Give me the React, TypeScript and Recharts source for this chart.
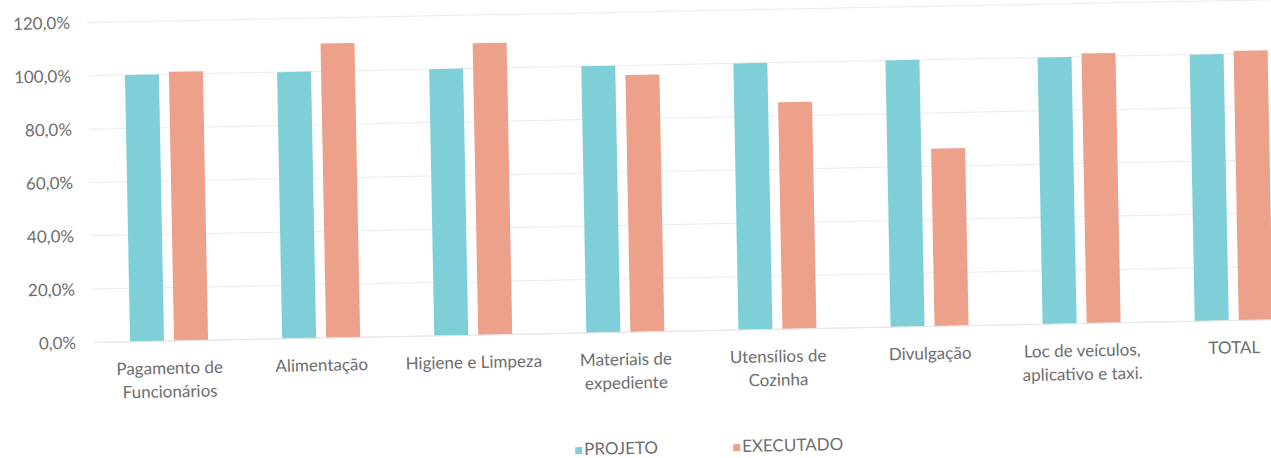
import React from 'react';
import { BarChart, Bar, XAxis, YAxis, CartesianGrid } from 'recharts';

const categorias = [
  'Pagamento de\nFuncionários',
  'Alimentação',
  'Higiene e Limpeza',
  'Materiais de\nexpediente',
  'Utensílios de\nCozinha',
  'Divulgação',
  'Loc de veículos,\naplicativo e taxi.',
  'TOTAL',
];
const projeto = [100, 100, 100, 100, 100, 100, 100, 100];
const executado = [100.9, 110.4, 109.4, 96.4, 85.1, 66.6, 101.2, 101.1];
const yTicks = [0, 20, 40, 60, 80, 100, 120];

const COR_PROJETO = '#7fcfd9';
const COR_EXECUTADO = '#eda08a';
const TEXTO = '#6e6e6e';
const FONTE = 'Lato, "Open Sans", sans-serif';

const chartData = categorias.map((c, i) => ({
  name: c,
  projeto: projeto[i],
  executado: executado[i],
}));

const fmtPct = (v: number) => v.toFixed(1).replace('.', ',') + '%';

const CategoryTick = ({ x, y, payload }: any) => {
  const linhas = String(payload.value).split('\n');
  return (
    <text x={x} y={y} textAnchor="middle" fill={TEXTO} fontSize={17} fontFamily={FONTE}>
      {linhas.map((l, i) => (
        <tspan key={i} x={x} dy={i === 0 ? 25 : 23.5}>
          {l}
        </tspan>
      ))}
    </text>
  );
};

const LegendItem = ({ color, label }: { color: string; label: string }) => (
  <div style={{ display: 'flex', alignItems: 'center' }}>
    <span style={{ width: 7, height: 7, background: color, marginRight: 2, marginTop: 3 }} />
    <span>{label}</span>
  </div>
);

export default function App() {
  return (
    <div
      style={{
        position: 'fixed',
        left: 0,
        top: 0,
        width: 1271,
        height: 458,
        overflow: 'hidden',
        background: '#fff',
      }}
    >
      <div
        style={{
          position: 'absolute',
          left: 0,
          top: 0,
          width: 1320,
          height: 458,
          transform: 'rotate(-1.1deg)',
          transformOrigin: '635px 229px',
        }}
      >
        <BarChart
          width={1320}
          height={458}
          data={chartData}
          margin={{ top: 12, right: 12, bottom: 66, left: 0 }}
          barSize={34}
          barGap={10}
        >
          <CartesianGrid vertical={false} stroke="#ebebeb" />
          <XAxis
            dataKey="name"
            interval={0}
            height={60}
            axisLine={{ stroke: '#e6e6e6' }}
            tickLine={false}
            tick={<CategoryTick />}
          />
          <YAxis
            width={91}
            domain={[0, 120]}
            ticks={yTicks}
            tickFormatter={fmtPct}
            axisLine={false}
            tickLine={false}
            tickSize={0}
            tickMargin={17}
            tick={{ fill: TEXTO, fontSize: 17, fontFamily: FONTE }}
          />
          <Bar dataKey="projeto" name="PROJETO" fill={COR_PROJETO} isAnimationActive={false} />
          <Bar dataKey="executado" name="EXECUTADO" fill={COR_EXECUTADO} isAnimationActive={false} />
        </BarChart>
        <div
          style={{
            position: 'absolute',
            left: 571,
            top: 441,
            display: 'flex',
            gap: 75,
            color: TEXTO,
            fontSize: 17,
            fontFamily: FONTE,
            lineHeight: '14px',
          }}
        >
          <LegendItem color={COR_PROJETO} label="PROJETO" />
          <LegendItem color={COR_EXECUTADO} label="EXECUTADO" />
        </div>
      </div>
    </div>
  );
}
